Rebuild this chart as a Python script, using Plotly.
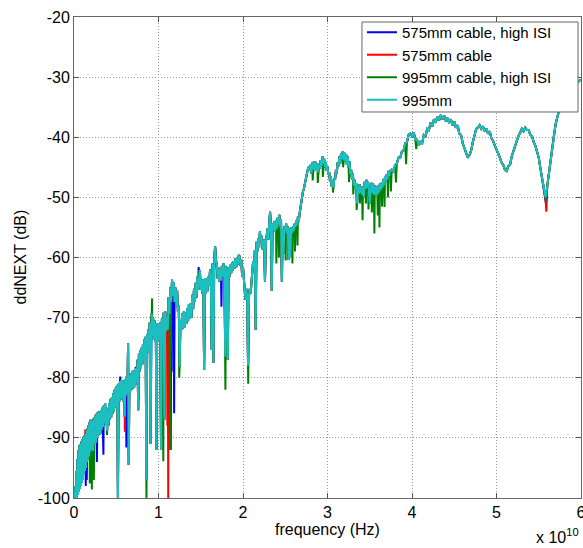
import plotly.graph_objects as go

# ---------------- data (frequency in GHz, ddNEXT in dB) ----------------
seg1_freq_ghz = [0.10, 0.16, 0.22, 0.28, 0.34, 0.40, 0.46, 0.52, 0.58, 0.64,
                 0.70, 0.76, 0.82, 0.88, 0.94, 1.00, 1.06, 1.12, 1.18, 1.24,
                 1.30, 1.36, 1.42, 1.48, 1.54, 1.60, 1.66, 1.72, 1.78, 1.84,
                 1.90, 1.96, 2.02, 2.08, 2.14, 2.20, 2.26, 2.32, 2.38, 2.44,
                 2.50, 2.56, 2.62, 2.68, 2.74, 2.80, 2.86, 2.92, 2.98]
seg1_db = [-100.0, -98.0, -100.0, -95.5, -100.0, -93.5, -99.5, -92.0, -99.0, -91.2,
           -98.5, -91.0, -98.0, -90.6, -97.5, -90.2, -97.0, -89.8, -96.0, -89.6,
           -95.5, -89.4, -95.0, -88.8, -94.0, -88.4, -93.6, -87.9, -93.0, -87.4,
           -92.4, -87.0, -92.0, -87.6, -91.6, -87.2, -92.2, -86.8, -91.0, -86.6,
           -90.6, -86.2, -90.8, -86.0, -90.0, -85.8, -89.6, -85.6, -89.0]

seg2_freq_ghz = [3.04, 3.12, 3.20, 3.28, 3.36, 3.44, 3.52, 3.60, 3.68, 3.76,
                 3.84, 3.92, 4.00, 4.08, 4.16, 4.24, 4.32, 4.40, 4.48, 4.56,
                 4.64, 4.72, 4.80, 4.88, 4.96, 5.04, 5.12, 5.20, 5.28, 5.36,
                 5.44, 5.52, 5.60, 5.68, 5.76, 5.84, 5.92, 6.00, 6.08, 6.16,
                 6.24, 6.32, 6.40, 6.48, 6.56, 6.64, 6.72, 6.80, 6.88, 6.96,
                 7.04, 7.12, 7.20, 7.28, 7.36, 7.44, 7.52, 7.60, 7.68, 7.76,
                 7.84, 7.92, 8.00, 8.08, 8.16, 8.24, 8.32, 8.40, 8.48, 8.56,
                 8.64, 8.72, 8.80, 8.88, 8.96, 9.04, 9.12, 9.20, 9.28, 9.36,
                 9.44, 9.52, 9.60, 9.68, 9.76, 9.84, 9.92, 10.00]
seg2_db = [-85.8, -89.4, -85.4, -88.6, -85.0, -88.2, -84.6, -87.6, -84.2, -87.8,
           -85.0, -88.8, -85.4, -88.0, -84.2, -87.0, -83.6, -86.6, -83.2, -86.0,
           -82.6, -85.6, -82.0, -85.0, -81.5, -84.8, -81.2, -100.0, -81.0, -84.0,
           -80.6, -83.6, -80.4, -83.4, -80.6, -84.0, -80.4, -86.5, -80.2, -83.0,
           -79.8, -82.6, -74.3, -94.5, -79.6, -82.4, -79.3, -82.0, -79.0, -81.8,
           -78.8, -81.6, -78.7, -81.2, -78.4, -80.6, -77.0, -85.4, -76.0, -79.0,
           -75.4, -78.4, -75.0, -77.8, -74.4, -77.2, -73.6, -76.6, -73.2, -97.0,
           -72.8, -75.8, -72.0, -75.0, -70.8, -91.0, -70.2, -69.3, -73.0, -70.0,
           -73.6, -70.4, -74.0, -71.0, -92.0, -71.0, -73.5, -70.9]

seg3_freq_ghz = [10.1, 10.2, 10.3, 10.4, 10.5, 10.6, 10.7, 10.8, 10.9, 11.0,
                 11.1, 11.2, 11.3, 11.4, 11.5, 11.6, 11.7, 11.8, 11.9, 12.0,
                 12.1, 12.2, 12.3, 12.4, 12.5, 12.6, 12.7, 12.8, 12.9, 13.0,
                 13.1, 13.2, 13.3, 13.4, 13.5, 13.6, 13.7, 13.8, 13.9, 14.0,
                 14.1, 14.2, 14.3, 14.4, 14.5, 14.6, 14.7, 14.8, 14.9, 15.0,
                 15.1, 15.2, 15.3, 15.4, 15.5, 15.6, 15.7, 15.8, 15.9, 16.0,
                 16.1, 16.2, 16.3, 16.4, 16.5, 16.6, 16.7, 16.8, 16.9, 17.0,
                 17.1, 17.2, 17.3, 17.4, 17.5, 17.6, 17.7, 17.8, 17.9, 18.0,
                 18.1, 18.2, 18.3, 18.4, 18.5, 18.6, 18.7, 18.8, 18.9, 19.0,
                 19.1, 19.2, 19.3, 19.4, 19.5, 19.6, 19.7, 19.8, 19.9, 20.0,
                 20.1, 20.2, 20.3, 20.4, 20.5, 20.6, 20.7, 20.8, 20.9, 21.0,
                 21.1, 21.2, 21.3, 21.4, 21.5, 21.6, 21.7, 21.8, 21.9, 22.0,
                 22.1, 22.2, 22.3, 22.4, 22.5, 22.6, 22.7, 22.8, 22.9, 23.0,
                 23.1, 23.2, 23.3, 23.4, 23.5, 23.6, 23.7, 23.8, 23.9, 24.0,
                 24.1, 24.2, 24.3, 24.4, 24.5, 24.6, 24.7, 24.8, 24.9, 25.0,
                 25.1, 25.2, 25.3, 25.4, 25.5, 25.6, 25.7, 25.8, 25.9, 26.0,
                 26.1, 26.2, 26.3, 26.4, 26.5, 26.6, 26.7, 26.8, 26.9, 27.0,
                 27.1, 27.2, 27.3, 27.4, 27.5, 27.6, 27.7, 27.8, 27.9]
seg3_db = [-73.8, -70.8, -92.0, -70.2, -73.0, -69.2, -87.0, -69.0, -72.2, -69.9,
           -72.0, -66.6, -69.4, -65.0, -67.4, -63.7, -66.4, -64.2, -67.4, -65.0,
           -68.0, -65.4, -69.0, -68.0, -78.2, -70.4, -72.0, -69.3, -71.8, -69.0,
           -71.6, -69.1, -71.0, -68.4, -70.6, -67.8, -70.2, -67.6, -70.0, -66.2,
           -68.6, -65.2, -67.4, -64.2, -66.6, -63.2, -65.4, -62.6, -62.1, -65.4,
           -63.7, -66.0, -63.6, -78.7, -63.4, -66.0, -63.4, -65.6, -63.2, -64.6,
           -62.0, -64.2, -75.4, -61.0, -77.5, -60.0, -58.2, -60.6, -61.2, -63.5,
           -61.6, -64.0, -62.1, -63.8, -61.4, -63.2, -61.0, -62.8, -76.5, -61.4,
           -63.2, -77.0, -61.6, -63.2, -61.2, -62.6, -60.8, -62.2, -60.6, -61.8,
           -60.2, -61.6, -60.0, -61.2, -59.6, -59.8, -61.4, -60.4, -63.2, -61.6,
           -64.4, -65.4, -67.0, -65.2, -66.8, -78.0, -66.5, -65.2, -66.0, -64.2,
           -62.0, -60.6, -61.8, -58.8, -72.0, -57.4, -59.0, -56.8, -58.4, -55.7,
           -57.2, -56.4, -58.6, -58.2, -57.0, -64.0, -57.6, -56.5, -55.2, -57.0,
           -54.0, -52.4, -54.6, -65.5, -54.3, -55.4, -54.0, -55.6, -53.8, -55.2,
           -53.4, -54.6, -52.9, -55.0, -53.6, -64.0, -55.4, -59.3, -54.8, -55.6,
           -54.3, -56.0, -54.8, -60.4, -55.2, -59.9, -55.0, -56.0, -54.9, -55.6,
           -54.4, -55.0, -53.8, -54.6, -53.2, -54.0, -52.7, -51.6, -50.6, -49.9,
           -49.0, -48.6, -47.7, -47.0, -46.4, -45.8, -45.2, -44.9, -45.6]

seg4_freq_ghz = [28.0, 28.1, 28.2, 28.3, 28.4, 28.5, 28.6, 28.7, 28.8, 28.9,
                 29.0, 29.1, 29.2, 29.3, 29.4, 29.5, 29.6, 29.7, 29.8, 29.9,
                 30.0, 30.1, 30.2, 30.3, 30.4, 30.5, 30.6, 30.7, 30.8, 30.9,
                 31.0, 31.1, 31.2, 31.3, 31.4, 31.5, 31.6, 31.7, 31.8, 31.9,
                 32.0, 32.1, 32.2, 32.3, 32.4, 32.5, 32.6, 32.7, 32.8, 32.9,
                 33.0, 33.1, 33.2, 33.3, 33.4, 33.5, 33.6, 33.7, 33.8, 33.9,
                 34.0, 34.1, 34.2, 34.3, 34.4, 34.5, 34.6, 34.7, 34.8, 34.9,
                 35.0, 35.1, 35.2, 35.3, 35.4, 35.5, 35.6, 35.7, 35.8, 35.9,
                 36.0, 36.1, 36.2, 36.3, 36.4, 36.5, 36.6, 36.7, 36.8, 36.9,
                 37.0, 37.1, 37.2, 37.3, 37.4]
seg4_db = [-44.6, -46.0, -44.2, -45.4, -44.0, -45.6, -44.1, -45.2, -44.4, -45.8,
           -44.6, -45.2, -43.8, -44.8, -43.2, -44.4, -43.6, -45.0, -44.2, -45.6,
           -44.9, -46.2, -45.8, -47.4, -46.6, -48.2, -47.1, -48.4, -46.8, -47.0,
           -45.4, -46.0, -44.2, -44.8, -43.2, -44.4, -42.7, -43.6, -42.4, -43.8,
           -42.6, -44.0, -42.8, -44.6, -43.2, -45.0, -44.0, -46.2, -45.4, -47.0,
           -46.0, -48.0, -47.1, -48.6, -47.6, -51.0, -48.2, -49.4, -47.8, -49.2,
           -48.2, -49.6, -48.2, -50.0, -47.4, -48.6, -47.1, -48.4, -47.4, -48.8,
           -51.0, -49.0, -47.6, -49.2, -47.7, -49.6, -48.0, -49.4, -48.2, -49.6,
           -48.0, -49.2, -47.7, -48.8, -47.6, -48.4, -47.0, -48.0, -46.6, -47.4,
           -46.2, -47.0, -45.6, -46.4, -45.6]

seg5_freq_ghz = [37.6, 37.8, 38.0, 38.2, 38.4, 38.6, 38.8, 39.0, 39.2, 39.4,
                 39.6, 39.8, 40.0, 40.2, 40.4, 40.6, 40.8, 41.0, 41.2, 41.4,
                 41.6, 41.8, 42.0, 42.2, 42.4, 42.6, 42.8, 43.0, 43.2, 43.4,
                 43.6, 43.8, 44.0, 44.2, 44.4, 44.6, 44.8, 45.0, 45.2, 45.4,
                 45.6, 45.8, 46.0, 46.2, 46.4, 46.6, 46.8, 47.0, 47.2, 47.4,
                 47.6, 47.8, 48.0, 48.2, 48.4, 48.6, 48.8, 49.0, 49.2, 49.4,
                 49.6, 49.8, 50.0, 50.2, 50.4, 50.6, 50.8, 51.0, 51.2, 51.4,
                 51.6, 51.8, 52.0, 52.2, 52.4, 52.6, 52.8, 53.0, 53.2, 53.4,
                 53.6, 53.8, 54.0, 54.2, 54.4, 54.6, 54.8, 55.0, 55.2, 55.4,
                 55.6, 55.8, 56.0, 56.2, 56.4, 56.6, 56.8, 57.0, 57.2, 57.4,
                 57.6, 57.8, 58.0, 58.2, 58.4, 58.6, 58.8, 59.0, 59.2, 59.4,
                 59.6, 59.8, 60.0]
seg5_db = [-45.4, -45.8, -44.6, -44.4, -43.4, -43.4, -42.4, -42.2, -41.0, -40.8,
           -39.6, -39.4, -39.8, -39.2, -40.4, -40.4, -41.4, -40.8, -41.0, -39.6,
           -39.8, -38.6, -38.8, -37.6, -38.2, -37.0, -37.6, -36.6, -37.2, -36.3,
           -37.0, -36.4, -37.3, -36.8, -37.6, -37.0, -38.0, -37.4, -38.4, -38.0,
           -39.4, -39.6, -41.0, -41.8, -42.6, -43.4, -43.0, -42.2, -40.8, -39.8,
           -38.6, -38.4, -38.0, -38.6, -38.2, -39.0, -38.6, -39.4, -39.0, -40.2,
           -40.6, -41.4, -42.0, -42.8, -43.4, -44.2, -44.6, -45.4, -45.6, -44.8,
           -44.6, -43.2, -42.2, -41.2, -40.6, -39.8, -39.2, -38.6, -39.0, -38.4,
           -38.8, -38.8, -39.6, -39.8, -40.8, -41.4, -42.4, -43.4, -45.2, -47.0,
           -48.8, -50.0, -48.2, -46.0, -43.6, -41.6, -39.6, -37.8, -36.6, -35.6,
           -34.8, -34.0, -33.4, -33.0, -32.6, -32.2, -31.9, -31.6, -31.4, -31.1,
           -30.8, -30.6, -30.4]

# readings where the other traces depart from the 995mm trace
extra_575_hi_isi_freq_ghz = [1.39, 1.51, 1.93, 2.71, 3.48, 5.48, 6.20, 6.44, 7.30,
                             11.45, 11.75, 11.85, 14.75, 17.45, 55.85]
extra_575_hi_isi_db = [-98.0, -97.0, -97.5, -94.0, -92.8, -79.8, -91.6, -93.0, -78.2,
                       -92.0, -79.0, -85.9, -61.6, -68.2, -51.0]

extra_575_freq_ghz = [1.33, 6.02, 6.46, 8.02, 10.95, 11.05, 11.15, 11.25, 11.35,
                      11.45, 14.45, 55.90]
extra_575_db = [-88.6, -89.0, -94.2, -76.0, -74.0, -88.0, -100.0, -76.0, -86.0,
                -75.5, -66.6, -52.4]

extra_995_hi_isi_freq_ghz = [1.87, 2.11, 2.35, 3.90, 8.02, 8.58, 9.24, 10.57, 11.38,
                             12.45, 17.92, 20.62, 23.95, 24.25, 25.05, 25.85, 26.15,
                             26.45, 28.25, 28.85, 29.45, 30.65, 31.85, 32.55, 33.05,
                             33.45, 33.85, 34.15, 34.55, 34.85, 35.25, 35.55, 35.95,
                             36.15, 36.45, 36.75, 37.15, 37.50, 38.10, 39.30, 40.50,
                             55.90]
extra_995_hi_isi_db = [-97.6, -98.6, -97.0, -89.5, -75.0, -100.0, -66.8, -93.9, -92.0,
                       -80.0, -82.0, -81.0, -61.0, -60.0, -60.5, -61.0, -59.0,
                       -58.0, -47.2, -47.6, -46.6, -49.2, -45.0, -47.5, -49.5,
                       -52.1, -51.0, -53.8, -51.0, -52.0, -52.5, -56.0, -53.0,
                       -55.0, -51.5, -51.6, -50.0, -49.0, -47.5, -44.5, -42.0,
                       -50.6]

series_names = ["575mm cable, high ISI", "575mm cable", "995mm cable, high ISI", "995mm"]
series_colors = ["#0000FF", "#FF0000", "#008000", "#1CBFBF"]
x_tick_labels = ["0", "1", "2", "3", "4", "5", "6"]
y_tick_values = [-100, -90, -80, -70, -60, -50, -40, -30, -20]

# ---------------- assemble ----------------
freq_ghz = seg1_freq_ghz + seg2_freq_ghz + seg3_freq_ghz + seg4_freq_ghz + seg5_freq_ghz
ddnext_995mm = seg1_db + seg2_db + seg3_db + seg4_db + seg5_db
for a, b in [(seg1_freq_ghz, seg1_db), (seg2_freq_ghz, seg2_db), (seg3_freq_ghz, seg3_db),
             (seg4_freq_ghz, seg4_db), (seg5_freq_ghz, seg5_db)]:
    assert len(a) == len(b), (len(a), len(b))


def build(extra_f, extra_db):
    pts = sorted(list(zip(freq_ghz, ddnext_995mm)) + list(zip(extra_f, extra_db)))
    return [p[0] * 1e9 for p in pts], [p[1] for p in pts]


traces_xy = [
    build(extra_575_hi_isi_freq_ghz, extra_575_hi_isi_db),
    build(extra_575_freq_ghz, extra_575_db),
    build(extra_995_hi_isi_freq_ghz, extra_995_hi_isi_db),
    build([], []),
]

fig = go.Figure()
for (xs, ys), name, col in zip(traces_xy, series_names, series_colors):
    fig.add_trace(go.Scatter(x=xs, y=ys, mode="lines", name=name,
                             line=dict(color=col, width=2)))

axis_common = dict(showgrid=True, gridcolor="#9a9a9a", gridwidth=1, griddash="1px,2px",
                   showline=True, linecolor="#666666", linewidth=1, mirror="ticks",
                   ticks="inside", ticklen=5, tickcolor="#555555", zeroline=False,
                   automargin=False, tickfont=dict(size=16, color="black"))

fig.update_xaxes(range=[0, 6e10], tickvals=[i * 1e10 for i in range(7)],
                 ticktext=x_tick_labels, ticklabeloverflow="allow", **axis_common)
fig.update_yaxes(range=[-100, -20], tickvals=y_tick_values,
                 ticktext=[str(v) for v in y_tick_values], **axis_common)

fig.update_layout(
    width=583, height=548,
    margin=dict(l=74, r=2, t=17, b=50, autoexpand=False),
    paper_bgcolor="white", plot_bgcolor="white",
    font=dict(family="Liberation Sans, Arial, sans-serif", size=16, color="black"),
    legend=dict(x=0.568, y=1.0021, xanchor="left", yanchor="top",
                bgcolor="rgba(0,0,0,0)", borderwidth=0,
                font=dict(size=15), itemwidth=30, tracegroupgap=0),
    shapes=[
        # legend box (white, framed) sitting over the curves
        dict(type="rect", xref="paper", yref="paper", x0=0.568, x1=0.9941,
             y0=0.8025, y1=0.9896, fillcolor="white",
             line=dict(color="#666666", width=1), layer="above"),
    ],
    annotations=[
        dict(text="frequency (Hz)", x=0.5, y=-0.0645, xref="paper", yref="paper",
             xanchor="center", yanchor="middle", showarrow=False, font=dict(size=16)),
        dict(text="ddNEXT (dB)", x=-0.1065, y=0.5, xref="paper", yref="paper",
             xanchor="center", yanchor="middle", textangle=-90, showarrow=False,
             font=dict(size=16)),
        dict(text="x 10<sup>10</sup>", x=0.953, y=-0.078, xref="paper", yref="paper",
             xanchor="center", yanchor="middle", showarrow=False, font=dict(size=16)),
    ],
)

fig.write_html("out.html", config={"displayModeBar": False},
               post_script="document.body.style.margin='0px';document.body.style.overflow='hidden';")
